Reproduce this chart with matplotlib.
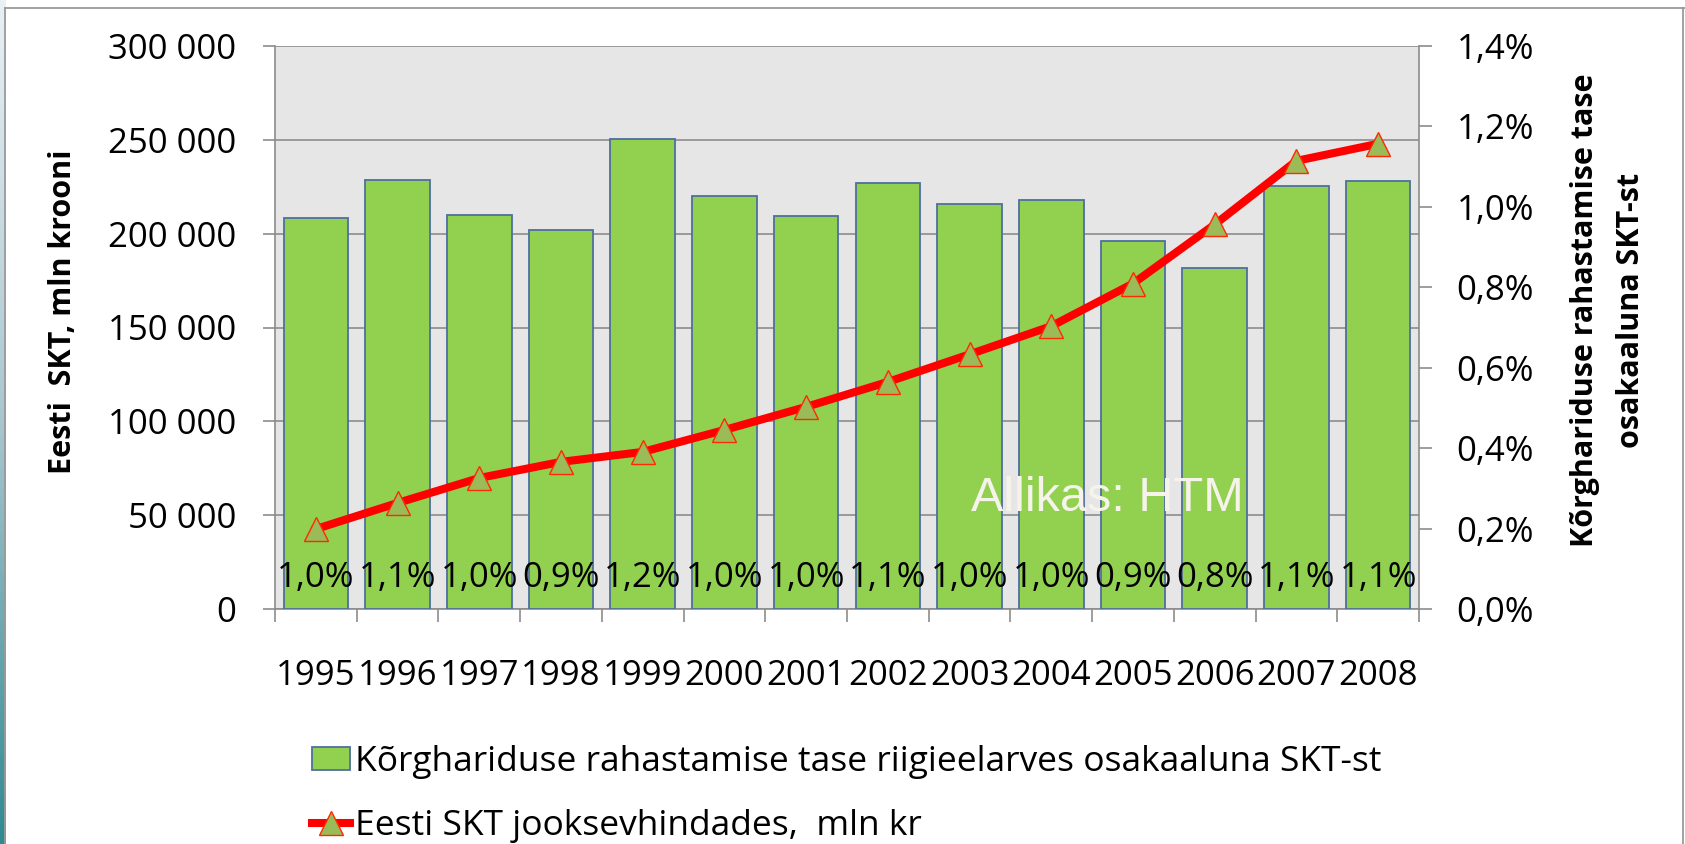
import numpy as np
import matplotlib
matplotlib.use("Agg")
import matplotlib.pyplot as plt
from matplotlib.lines import Line2D
from matplotlib.ticker import FuncFormatter

plt.rcParams['font.family'] = ['Open Sans', 'DejaVu Sans']

years = ['1995', '1996', '1997', '1998', '1999', '2000', '2001',
         '2002', '2003', '2004', '2005', '2006', '2007', '2008']
# kõrghariduse rahastamine, % SKT-st (bars, right axis)
share_pct = [0.973, 1.066, 0.980, 0.942, 1.169, 1.028, 0.977,
             1.060, 1.008, 1.018, 0.915, 0.848, 1.052, 1.064]
# Eesti SKT jooksevhindades, mln kr (line, left axis)
gdp = [42600, 56500, 69800, 78400, 83700, 95400, 107700,
       121000, 135700, 150700, 173400, 204900, 238800, 247900]

bar_label = 'Kõrghariduse rahastamise tase riigieelarves osakaaluna SKT-st'
line_label = 'Eesti SKT jooksevhindades,  mln kr'

W, H = 1685, 844
fig = plt.figure(figsize=(W / 100, H / 100), dpi=100, facecolor='white')

# window decoration: light top strip, teal gradient on the left, grey frame
top = fig.add_axes([0, 1 - 8 / H, 1, 8 / H])
top.set_facecolor('#eef3f7')
top.axis('off')
top.patch.set_visible(True)
strip = fig.add_axes([0, 0, 5 / W, 1])
grad = np.linspace(0, 1, 256).reshape(-1, 1)
cmap = matplotlib.colors.LinearSegmentedColormap.from_list('t', ['#e9f1f5', '#a9c6cf', '#2f8a92'])
strip.imshow(grad, aspect='auto', cmap=cmap, extent=[0, 1, 0, 1], origin='upper')
strip.axis('off')
for xs, ys in [([5 / W, 5 / W], [0, 1 - 8 / H]), ([5 / W, 1], [1 - 8 / H, 1 - 8 / H]),
               ([1683 / W, 1683 / W], [0, 1 - 8 / H])]:
    fig.add_artist(Line2D(xs, ys, transform=fig.transFigure, color='#9a9a9a', lw=1.3))

x = np.arange(len(years))
grey = '#8c8c8c'
tick_fs = 25

rect = [275 / W, 1 - 609 / H, (1419 - 275) / W, (609 - 46) / H]
ax = fig.add_axes(rect)
ax.set_facecolor('#e6e6e6')
ax.set_xlim(-0.5, len(years) - 0.5)
ax.set_ylim(0, 300000)
ax.set_yticks(np.arange(0, 300001, 50000))
ax.yaxis.set_major_formatter(FuncFormatter(lambda v, p: f'{int(v):,}'.replace(',', ' ')))
ax.grid(axis='y', color=grey, lw=1.2)
ax.set_axisbelow(True)
ax.tick_params(axis='y', direction='out', length=9, width=1.2, color=grey,
               labelsize=tick_fs, pad=19)
ax.set_xticks(np.arange(-0.5, len(years), 1))
ax.set_xticklabels([])
ax.set_xticks(x, minor=True)
ax.set_xticklabels(years, minor=True)
ax.tick_params(axis='x', which='major', direction='out', length=9, width=1.2, color=grey)
ax.tick_params(axis='x', which='minor', length=0, labelsize=tick_fs, pad=36)
for s in ['top', 'right']:
    ax.spines[s].set_visible(False)
for s in ['left', 'bottom']:
    ax.spines[s].set_color(grey)
    ax.spines[s].set_linewidth(1.2)

# bars on the right (percent) axis
ax2 = ax.twinx()
ax2.set_ylim(0, 1.4)
ax2.set_yticks(np.arange(0, 1.41, 0.2))
ax2.yaxis.set_major_formatter(FuncFormatter(lambda v, p: f'{v:.1f}%'.replace('.', ',')))
bars = ax2.bar(x, share_pct, width=0.79, color='#92d050', edgecolor='#4f6f9f',
               linewidth=1.3, label=bar_label)
ax2.tick_params(axis='y', direction='out', length=9, width=1.2, color=grey,
                labelsize=tick_fs, pad=18)
for s in ['top', 'left', 'bottom']:
    ax2.spines[s].set_visible(False)
ax2.spines['right'].set_color(grey)
ax2.spines['right'].set_linewidth(1.2)
for xi, v in zip(x, share_pct):
    ax2.annotate(f'{v:.1f}%'.replace('.', ','), (xi, 0), xytext=(0, 22),
                 textcoords='offset points', ha='center', va='center',
                 fontsize=tick_fs, color='black')

# line on the left (GDP) scale, drawn on top
ax3 = ax.twinx()
ax3.set_ylim(ax.get_ylim())
ax3.axis('off')
line, = ax3.plot(x, gdp, color='#ff0000', lw=5.8, marker='^', markersize=17,
                 markerfacecolor='#9bbb59', markeredgecolor='#ff2a00',
                 markeredgewidth=1.0, label=line_label)

fig.text(971 / W, 1 - 498 / H, 'Allikas: HTM', color='#f6f4ea', fontsize=35,
         family='Liberation Sans', ha='left', va='center')

fig.text(63 / W, 1 - 312 / H, 'Eesti  SKT, mln krooni', rotation=90, fontsize=22,
         fontweight='bold', ha='center', va='center')
fig.text(1608 / W, 1 - 310 / H, 'Kõrghariduse rahastamise tase\nosakaaluna SKT-st',
         rotation=90, fontsize=22, fontweight='bold', ha='center', va='center',
         multialignment='center', linespacing=1.7)

fig.legend(handles=[bars, line], labels=[bar_label, line_label], loc='upper left',
           bbox_to_anchor=(312 / W, 1 - 745 / H), frameon=False, fontsize=25.5,
           handlelength=1.07, handleheight=0.62, handletextpad=0.15,
           labelspacing=0.84, borderaxespad=0, borderpad=0)

fig.savefig('out.png', dpi=100, facecolor='white')
